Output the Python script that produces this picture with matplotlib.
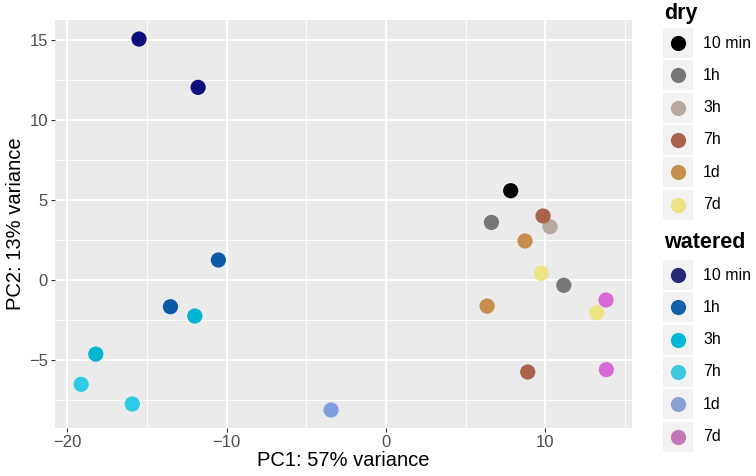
import matplotlib
matplotlib.use("Agg")
import matplotlib.pyplot as plt
from matplotlib.patches import Rectangle

plt.rcParams['font.family'] = ['Liberation Sans', 'DejaVu Sans']

times = ["10 min", "1h", "3h", "7h", "1d", "7d"]

# dry samples
dry_time = ["10 min", "1h", "1h", "3h", "7h", "7h", "1d", "1d", "7d", "7d"]
dry_pc1 = [7.82, 6.61, 11.15, 10.29, 9.85, 8.89, 8.72, 6.34, 9.74, 13.22]
dry_pc2 = [5.58, 3.60, -0.33, 3.33, 4.00, -5.75, 2.44, -1.63, 0.42, -2.04]

# watered samples
wat_time = ["10 min", "10 min", "1h", "1h", "3h", "3h", "7h", "7h", "1d", "7d", "7d"]
wat_pc1 = [-15.50, -11.79, -10.52, -13.53, -12.00, -18.21, -19.13, -15.92, -3.45, 13.80, 13.82]
wat_pc2 = [15.06, 12.04, 1.25, -1.67, -2.25, -4.63, -6.52, -7.75, -8.13, -1.25, -5.60]

dry_cols = ["#000000", "#777777", "#b8a8a0", "#a8634a", "#c68f4e", "#ede384"]
wat_cols = ["#0c0f7c", "#0a5aa8", "#00b4d2", "#2ecbe6", "#7f9edd", "#d86ad8"]
wat_key_cols = ["#262a78", "#1460a8", "#00b8d8", "#40c8e0", "#8aa0d4", "#c078b8"]

W, H = 756, 476
fig = plt.figure(figsize=(W / 100, H / 100), dpi=100)
ax = fig.add_axes([55 / W, 1 - 428 / H, (632 - 55) / W, (428 - 20) / H])
ax.set_facecolor("#ebebeb")

dmap = dict(zip(times, dry_cols))
wmap = dict(zip(times, wat_cols))
ax.scatter(dry_pc1, dry_pc2, s=120, c=[dmap[t] for t in dry_time], linewidths=0, zorder=3)
ax.scatter(wat_pc1, wat_pc2, s=120, c=[wmap[t] for t in wat_time], linewidths=0, zorder=3)

ax.set_xlim(-20.77, 15.43)
ax.set_ylim(-9.25, 16.25)
ax.set_xticks([-20, -10, 0, 10])
ax.set_yticks([-5, 0, 5, 10, 15])
ax.set_xticks([-15, -5, 5, 15], minor=True)
ax.set_yticks([-7.5, -2.5, 2.5, 7.5, 12.5], minor=True)
ax.set_xticklabels(["\u221220", "\u221210", "0", "10"])
ax.set_yticklabels(["\u22125", "0", "5", "10", "15"])
ax.grid(which="major", color="white", linewidth=1.4)
ax.grid(which="minor", color="white", linewidth=0.7)
ax.set_axisbelow(True)
for sp in ax.spines.values():
    sp.set_visible(False)
ax.tick_params(which="major", length=3, width=0.8, color="#333333", labelsize=12,
               labelcolor="#4d4d4d", pad=2)
ax.tick_params(which="minor", length=0)
ax.set_xlabel("PC1: 57% variance", fontsize=14.5, labelpad=1)
ax.set_ylabel("PC2: 13% variance", fontsize=14.5, labelpad=3)

# legend drawn in pixel coordinates
lg = fig.add_axes([0, 0, 1, 1], facecolor="none")
lg.set_xlim(0, W)
lg.set_ylim(H, 0)
lg.axis("off")


def draw_key(title, y_title, y_first, cols):
    lg.text(664, y_title, title, fontsize=15.5, fontweight="bold", va="center", ha="left")
    for i, (lab, col) in enumerate(zip(times, cols)):
        yc = y_first + i * 32.3
        lg.add_patch(Rectangle((663, yc - 15), 30, 30, facecolor="#f2f2f2", edgecolor="none"))
        lg.scatter([678], [yc], s=120, color=col, linewidths=0)
        lg.text(703, yc, lab, fontsize=11.5, va="center", ha="left")


draw_key("dry", 13, 43, dry_cols)
draw_key("watered", 242, 275, wat_key_cols)

fig.savefig("out.png", dpi=100)
